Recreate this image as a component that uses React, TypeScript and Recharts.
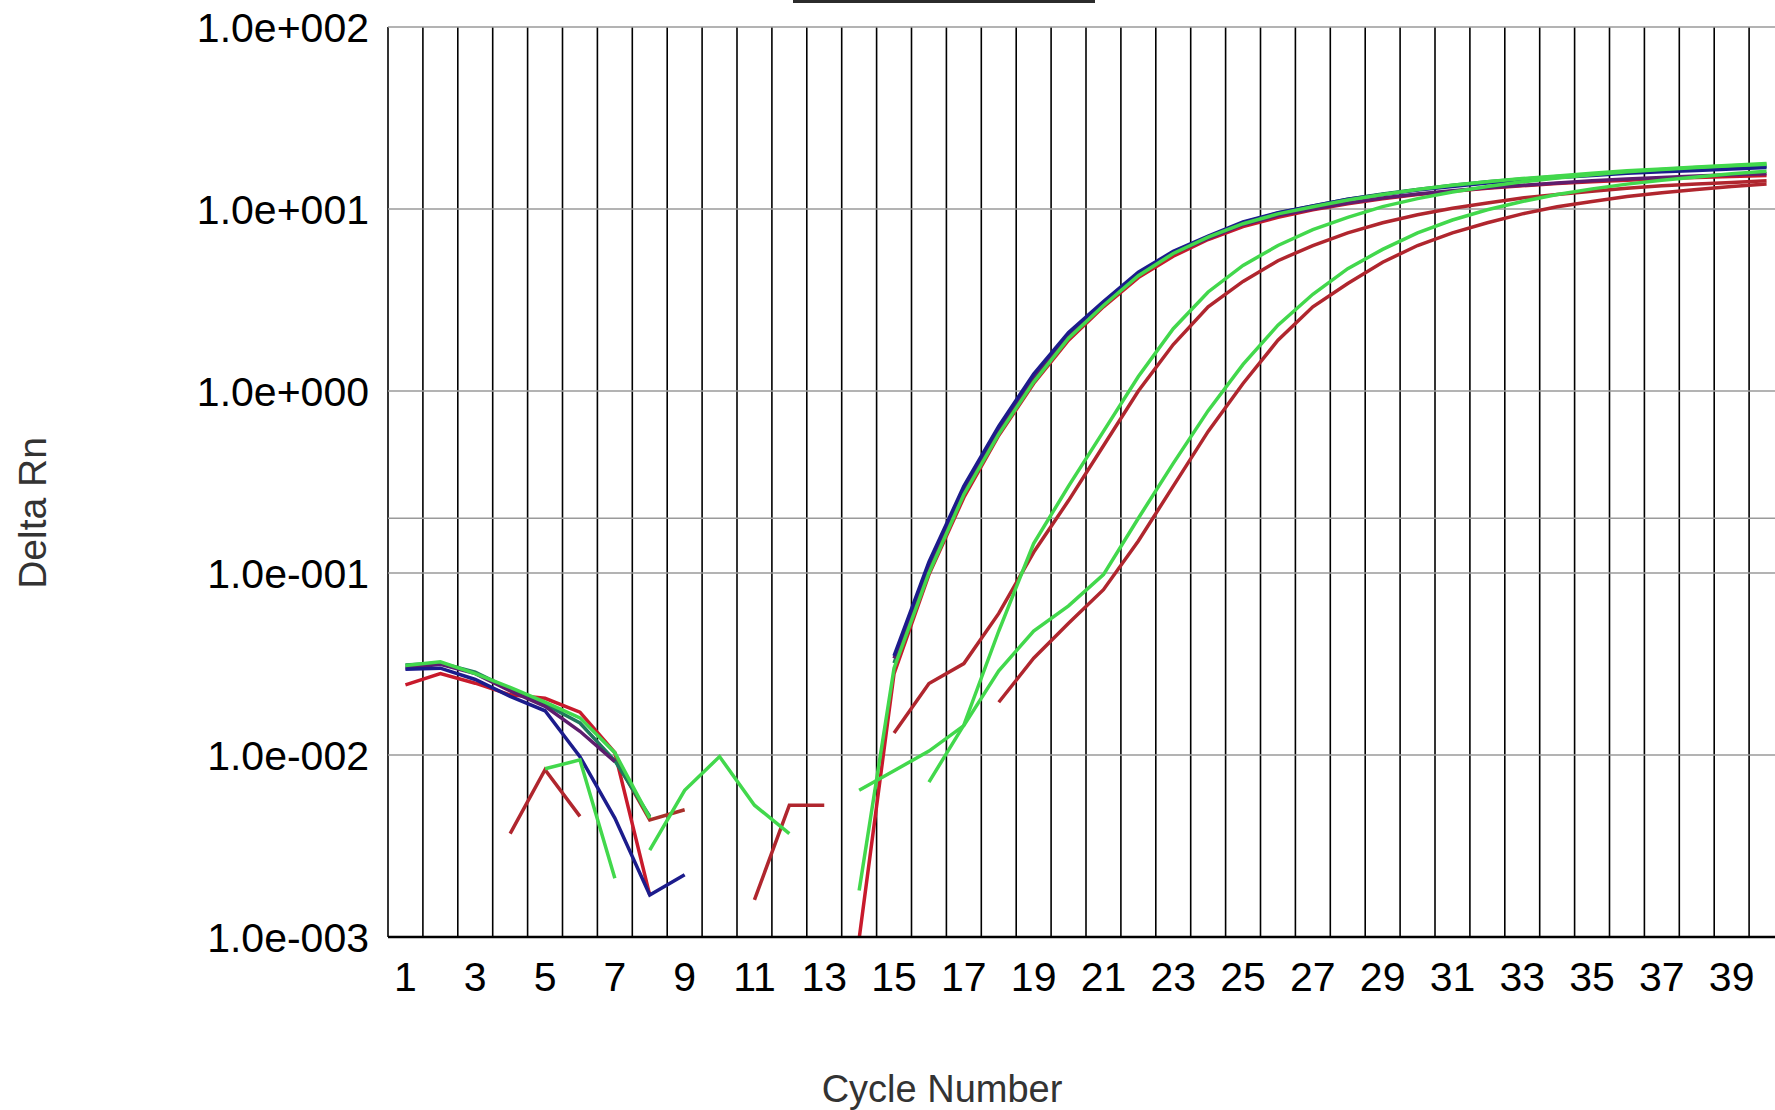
import React from "react";
import { LineChart, Line, XAxis, YAxis, CartesianGrid } from "recharts";

const cycles = [1, 2, 3, 4, 5, 6, 7, 8, 9, 10, 11, 12, 13, 14, 15, 16, 17, 18, 19, 20, 21, 22, 23, 24, 25, 26, 27, 28, 29, 30, 31, 32, 33, 34, 35, 36, 37, 38, 39, 40];
const xTicks = [1, 3, 5, 7, 9, 11, 13, 15, 17, 19, 21, 23, 25, 27, 29, 31, 33, 35, 37, 39];
const yTicks = [0.001, 0.01, 0.1, 1, 10, 100];
const yTickLabels = ["1.0e-003", "1.0e-002", "1.0e-001", "1.0e+000", "1.0e+001", "1.0e+002"];
const threshold = 0.2;

const _ = null;

const navy = [0.0296, 0.030, 0.026, 0.021, 0.0175, 0.0098, 0.0045, 0.0017, 0.0022, _, _, _, _, _,
  0.035, 0.115, 0.30, 0.64, 1.24, 2.1, 3.1, 4.5, 5.85, 7.1, 8.5, 9.55, 10.4, 11.3, 12.0, 12.7, 13.3, 13.9, 14.4, 14.9, 15.3, 15.7, 16.0, 16.3, 16.6, 16.9];
const purple = [0.030, 0.0315, 0.028, 0.0225, 0.0185, 0.0135, 0.0092, _, _, _, _, _, _, _,
  0.034, 0.112, 0.29, 0.62, 1.2, 2.05, 3.05, 4.4, 5.7, 6.9, 8.2, 9.2, 10.0, 10.8, 11.5, 12.1, 12.6, 13.1, 13.5, 13.9, 14.3, 14.6, 14.9, 15.2, 15.4, 15.6];
const teal = [0.0312, 0.032, 0.0285, 0.023, 0.019, 0.015, 0.0093, 0.0046, _, _, _, _, _, _,
  0.032, 0.108, 0.285, 0.61, 1.18, 2.02, 3.0, 4.4, 5.75, 7.0, 8.4, 9.5, 10.4, 11.3, 12.1, 12.8, 13.5, 14.1, 14.6, 15.1, 15.5, 15.9, 16.3, 16.6, 16.9, 17.2];
const greenA = [0.031, 0.0325, 0.028, 0.0235, 0.0195, 0.016, 0.0103, 0.0045, _, _, _, _, _, 0.0018,
  0.030, 0.10, 0.27, 0.58, 1.12, 1.95, 2.95, 4.3, 5.7, 7.0, 8.3, 9.4, 10.3, 11.2, 12.0, 12.8, 13.5, 14.1, 14.7, 15.2, 15.7, 16.2, 16.6, 17.0, 17.4, 17.8];
const redA = [0.0243, 0.028, 0.0248, 0.0214, 0.0205, 0.0172, 0.0103, 0.0017, _, _, _, _, _, 0.00098,
  0.028, 0.098, 0.26, 0.57, 1.1, 1.9, 2.9, 4.2, 5.5, 6.8, 8.0, 9.0, 9.9, 10.7, 11.4, 12.0, 12.5, 13.0, 13.4, 13.8, 14.1, 14.4, 14.7, 14.9, 15.1, 15.3];
const redE = [_, _, _, _, _, _, 0.0096, 0.0044, 0.0050, _, _, _, _, _,
  _, _, _, _, _, _, _, _, _, _, _, _, _, _, _, _, _, _, _, _, _, _, _, _, _, _];
const greenB = [_, _, _, _, 0.0084, 0.0094, 0.0021, _, _, _, _, _, _, _, _,
  0.0071, 0.0146, 0.048, 0.145, 0.30, 0.60, 1.2, 2.2, 3.5, 4.9, 6.3, 7.7, 9.0, 10.3, 11.4, 12.4, 13.3, 14.1, 14.8, 15.4, 16.0, 16.5, 16.9, 17.3, 17.6];
const redB = [_, _, _, 0.0037, 0.0083, 0.0046, _, _, _, _, _, _, _, _,
  0.0132, 0.0247, 0.0318, 0.060, 0.13, 0.25, 0.50, 1.0, 1.8, 2.9, 4.0, 5.2, 6.3, 7.4, 8.4, 9.3, 10.1, 10.8, 11.5, 12.0, 12.5, 13.0, 13.4, 13.7, 14.0, 14.3];
const greenC = [_, _, _, _, _, _, _, 0.0030, 0.0064, 0.0098, 0.0053, 0.0037, _, 0.0064,
  0.0082, 0.0105, 0.0145, 0.029, 0.048, 0.066, 0.098, 0.20, 0.40, 0.78, 1.4, 2.3, 3.4, 4.7, 6.0, 7.4, 8.7, 9.9, 11.0, 12.0, 12.9, 13.7, 14.4, 15.0, 15.6, 16.1];
const redD = [_, _, _, _, _, _, _, _, _, _, 0.0016, 0.0053, 0.0053, _, _, _, _,
  0.0195, 0.034, 0.053, 0.081, 0.15, 0.30, 0.60, 1.1, 1.9, 2.9, 3.9, 5.1, 6.3, 7.4, 8.4, 9.4, 10.3, 11.0, 11.7, 12.3, 12.8, 13.3, 13.7];

const series = [
  { key: "redD", values: redD, color: "#b0262e" },
  { key: "redB", values: redB, color: "#b0262e" },
  { key: "redE", values: redE, color: "#a8302a" },
  { key: "redA", values: redA, color: "#c81a2c" },
  { key: "teal", values: teal, color: "#1f7a5c" },
  { key: "purple", values: purple, color: "#5e1d6e" },
  { key: "navy", values: navy, color: "#1c1c8c" },
  { key: "greenC", values: greenC, color: "#42d84c" },
  { key: "greenB", values: greenB, color: "#42d84c" },
  { key: "greenA", values: greenA, color: "#42d84c" },
];

const data = cycles.map((c, i) => {
  const row: Record<string, number | null> = { cycle: c };
  series.forEach((s) => {
    row[s.key] = s.values[i];
  });
  return row;
});

const bandEdges = [0.5, ...cycles.map((c) => c + 0.5)];
const hLines = [...yTicks, threshold];

const font = "'Liberation Sans', Arial, sans-serif";

export default function App() {
  return (
    <div
      style={{
        position: "fixed",
        left: 0,
        top: 0,
        width: 1775,
        height: 1110,
        overflow: "hidden",
        background: "#ffffff",
        fontFamily: font,
      }}
    >
      <div style={{ position: "absolute", left: 793, top: 0, width: 302, height: 3, background: "#2b2b2b" }} />
      <LineChart
        width={1800}
        height={1110}
        data={data}
        margin={{ top: 27, right: 16, bottom: 113, left: 0 }}
      >
        <CartesianGrid
          horizontal={false}
          vertical={true}
          stroke="#000000"
          strokeWidth={1.6}
          verticalValues={bandEdges}
        />
        <CartesianGrid
          horizontal={true}
          vertical={false}
          stroke="#9a9a9a"
          strokeWidth={1.5}
          horizontalValues={hLines}
        />
        <XAxis
          dataKey="cycle"
          type="number"
          domain={[0.5, 40.5]}
          ticks={xTicks}
          interval={0}
          allowDataOverflow
          height={60}
          tickLine={false}
          tickSize={0}
          tickMargin={25}
          axisLine={{ stroke: "#000000", strokeWidth: 2.5 }}
          tick={{ fill: "#000000", fontSize: 41, fontFamily: font }}
        />
        <YAxis
          scale="log"
          domain={[0.001, 100]}
          ticks={yTicks}
          interval={0}
          allowDataOverflow
          width={388}
          axisLine={false}
          tickLine={false}
          tickSize={0}
          tickMargin={19}
          tickFormatter={(v: number) => yTickLabels[yTicks.indexOf(v)]}
          tick={{ fill: "#000000", fontSize: 41, fontFamily: font }}
        />
        {series.map((s) => (
          <Line
            key={s.key}
            dataKey={s.key}
            type="linear"
            stroke={s.color}
            strokeWidth={3.5}
            dot={false}
            activeDot={false}
            connectNulls={false}
            isAnimationActive={false}
          />
        ))}
      </LineChart>
      <div
        style={{
          position: "absolute",
          left: 33,
          top: 513,
          transform: "translate(-50%, -50%) rotate(-90deg)",
          whiteSpace: "nowrap",
          fontSize: 39,
          color: "#333333",
          lineHeight: "normal",
        }}
      >
        Delta Rn
      </div>
      <div
        style={{
          position: "absolute",
          left: 942,
          top: 1068,
          transform: "translateX(-50%)",
          whiteSpace: "nowrap",
          fontSize: 38,
          color: "#333333",
          lineHeight: "normal",
        }}
      >
        Cycle Number
      </div>
    </div>
  );
}
